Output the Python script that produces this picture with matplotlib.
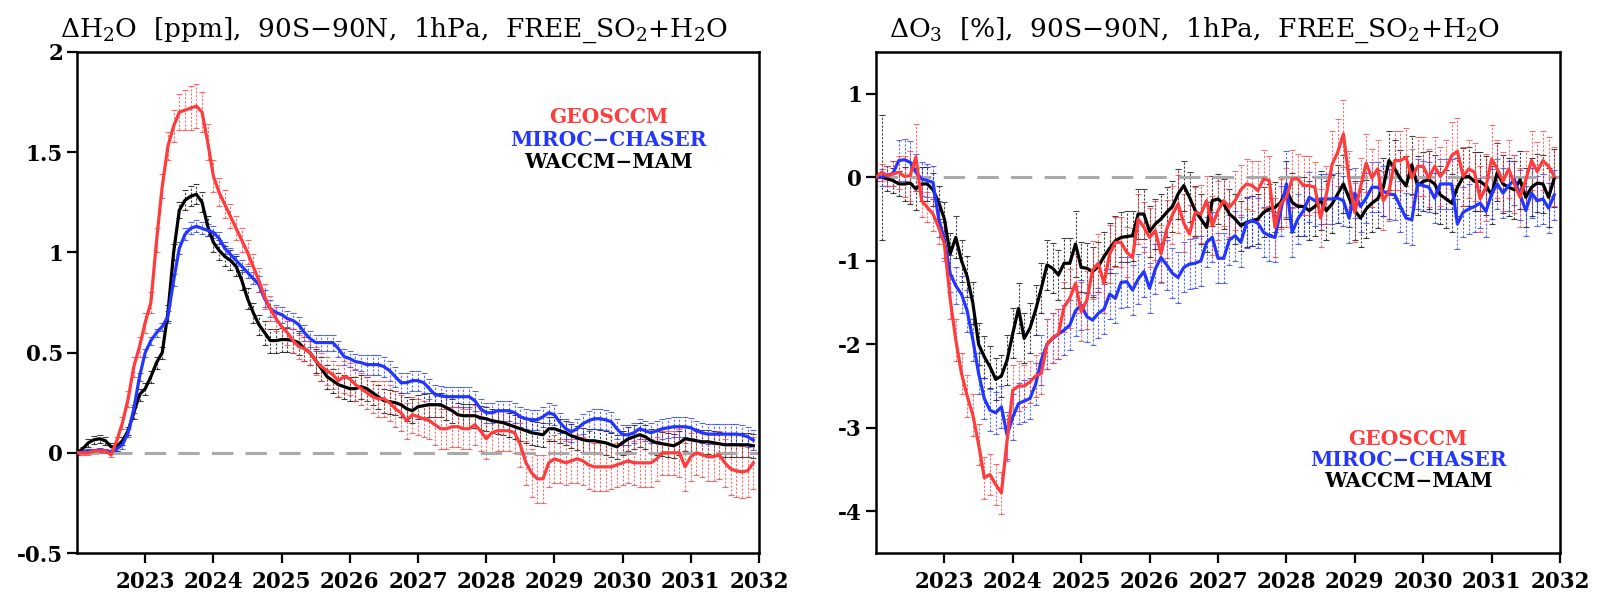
import numpy as np
import matplotlib
matplotlib.use("Agg")
import matplotlib.pyplot as plt

plt.rcParams['font.family'] = ['DejaVu Serif']
plt.rcParams['mathtext.fontset'] = 'dejavuserif'
plt.rcParams['mathtext.default'] = 'regular'

# monthly time axis, Jan 2022 .. Dec 2031
months = 2022 + np.arange(120) / 12.0

models = ['GEOSCCM', 'MIROC-CHASER', 'WACCM-MAM']
colors = {'GEOSCCM': '#ff3b3b', 'MIROC-CHASER': '#2236ff', 'WACCM-MAM': '#000000'}

# ---- dH2O [ppm] ----
h2o_geos = [
    0.00, 0.00, 0.00, 0.01, 0.01, 0.01, -0.01, 0.06, 0.15, 0.27, 0.43, 0.53,
    0.65, 0.75, 1.06, 1.33, 1.53, 1.63, 1.70, 1.71, 1.72, 1.73, 1.70, 1.55,
    1.38, 1.30, 1.24, 1.18, 1.12, 1.06, 1.00, 0.93, 0.86, 0.78, 0.72, 0.67,
    0.63, 0.60, 0.56, 0.53, 0.52, 0.50, 0.46, 0.43, 0.41, 0.39, 0.36, 0.38,
    0.37, 0.34, 0.32, 0.30, 0.28, 0.27, 0.27, 0.25, 0.22, 0.20, 0.16, 0.19,
    0.18, 0.17, 0.16, 0.14, 0.12, 0.12, 0.13, 0.13, 0.12, 0.12, 0.14, 0.11,
    0.07, 0.10, 0.11, 0.11, 0.11, 0.10, 0.04, -0.05, -0.10, -0.13, -0.13, -0.05,
    -0.03, -0.04, -0.05, -0.04, -0.03, -0.04, -0.06, -0.07, -0.07, -0.07, -0.07, -0.06,
    -0.05, -0.04, -0.05, -0.05, -0.05, -0.05, -0.03, 0.00, 0.00, 0.00, 0.00, -0.07,
    -0.02, 0.00, -0.01, -0.02, -0.02, -0.01, -0.05, -0.08, -0.09, -0.095, -0.09, -0.05,
]
h2o_miroc = [
    0.00, 0.005, 0.01, 0.01, 0.015, 0.01, 0.005, 0.02, 0.04, 0.10, 0.22, 0.38,
    0.50, 0.56, 0.60, 0.63, 0.68, 0.86, 1.02, 1.09, 1.12, 1.13, 1.12, 1.11,
    1.10, 1.07, 1.02, 0.99, 0.96, 0.93, 0.90, 0.87, 0.84, 0.77, 0.72, 0.70,
    0.69, 0.67, 0.66, 0.64, 0.60, 0.57, 0.55, 0.55, 0.55, 0.55, 0.52, 0.48,
    0.47, 0.455, 0.45, 0.44, 0.44, 0.44, 0.43, 0.41, 0.38, 0.35, 0.35, 0.36,
    0.36, 0.35, 0.32, 0.29, 0.285, 0.28, 0.28, 0.28, 0.28, 0.28, 0.26, 0.22,
    0.20, 0.20, 0.21, 0.21, 0.21, 0.20, 0.18, 0.17, 0.165, 0.165, 0.18, 0.20,
    0.19, 0.15, 0.12, 0.105, 0.12, 0.145, 0.16, 0.17, 0.17, 0.165, 0.155, 0.12,
    0.09, 0.09, 0.10, 0.12, 0.11, 0.10, 0.11, 0.12, 0.125, 0.13, 0.13, 0.13,
    0.125, 0.11, 0.10, 0.093, 0.093, 0.093, 0.093, 0.093, 0.093, 0.09, 0.08, 0.063,
]
h2o_waccm = [
    0.00, 0.02, 0.05, 0.065, 0.07, 0.06, 0.03, 0.03, 0.06, 0.11, 0.20, 0.29,
    0.32, 0.38, 0.45, 0.50, 0.70, 1.00, 1.21, 1.26, 1.28, 1.29, 1.25, 1.13,
    1.05, 1.01, 0.98, 0.96, 0.93, 0.86, 0.77, 0.70, 0.64, 0.60, 0.56, 0.56,
    0.565, 0.565, 0.56, 0.55, 0.52, 0.50, 0.46, 0.42, 0.38, 0.36, 0.34, 0.33,
    0.32, 0.32, 0.33, 0.32, 0.30, 0.28, 0.26, 0.255, 0.25, 0.24, 0.22, 0.21,
    0.23, 0.235, 0.24, 0.24, 0.24, 0.225, 0.21, 0.19, 0.185, 0.185, 0.185, 0.175,
    0.17, 0.16, 0.155, 0.15, 0.14, 0.13, 0.12, 0.11, 0.10, 0.095, 0.09, 0.12,
    0.12, 0.11, 0.10, 0.085, 0.075, 0.065, 0.06, 0.06, 0.055, 0.05, 0.04, 0.03,
    0.05, 0.07, 0.08, 0.09, 0.08, 0.06, 0.05, 0.045, 0.04, 0.035, 0.05, 0.07,
    0.065, 0.06, 0.055, 0.055, 0.05, 0.045, 0.04, 0.04, 0.04, 0.04, 0.04, 0.035,
]
h2o_geos_err = [
    0.01, 0.01, 0.01, 0.01, 0.01, 0.01, 0.01, 0.02, 0.03, 0.04, 0.05, 0.05,
    0.05, 0.05, 0.06, 0.06, 0.07, 0.08, 0.09, 0.10, 0.11, 0.11, 0.10, 0.09,
    0.08, 0.07, 0.07, 0.06, 0.06, 0.06, 0.06, 0.06, 0.06, 0.06, 0.06, 0.06,
    0.06, 0.06, 0.06, 0.06, 0.06, 0.06, 0.07, 0.07, 0.07, 0.07, 0.08, 0.08,
    0.08, 0.08, 0.08, 0.08, 0.08, 0.09, 0.09, 0.09, 0.09, 0.09, 0.09, 0.09,
    0.09, 0.09, 0.09, 0.10, 0.10, 0.10, 0.10, 0.10, 0.10, 0.10, 0.10, 0.10,
    0.10, 0.10, 0.10, 0.10, 0.10, 0.10, 0.11, 0.11, 0.12, 0.12, 0.12, 0.12,
    0.12, 0.11, 0.11, 0.11, 0.12, 0.12, 0.12, 0.12, 0.12, 0.12, 0.11, 0.11,
    0.11, 0.11, 0.11, 0.12, 0.12, 0.12, 0.11, 0.11, 0.11, 0.11, 0.12, 0.12,
    0.12, 0.11, 0.11, 0.12, 0.12, 0.12, 0.12, 0.13, 0.13, 0.13, 0.13, 0.13,
]
h2o_miroc_err = [
    0.01, 0.01, 0.01, 0.01, 0.01, 0.01, 0.01, 0.01, 0.02, 0.02, 0.02, 0.02,
    0.02, 0.02, 0.02, 0.02, 0.03, 0.03, 0.03, 0.03, 0.03, 0.03, 0.03, 0.03,
    0.03, 0.03, 0.03, 0.03, 0.03, 0.03, 0.03, 0.03, 0.04, 0.04, 0.04, 0.04,
    0.04, 0.04, 0.04, 0.04, 0.04, 0.04, 0.04, 0.04, 0.04, 0.04, 0.04, 0.04,
    0.04, 0.04, 0.04, 0.05, 0.05, 0.05, 0.05, 0.05, 0.05, 0.05, 0.05, 0.05,
    0.05, 0.05, 0.05, 0.05, 0.05, 0.05, 0.05, 0.05, 0.05, 0.05, 0.05, 0.05,
    0.05, 0.05, 0.05, 0.05, 0.05, 0.05, 0.05, 0.05, 0.05, 0.05, 0.05, 0.05,
    0.05, 0.05, 0.05, 0.05, 0.05, 0.05, 0.05, 0.05, 0.05, 0.05, 0.05, 0.05,
    0.05, 0.05, 0.05, 0.05, 0.05, 0.05, 0.05, 0.05, 0.05, 0.05, 0.05, 0.05,
    0.05, 0.05, 0.05, 0.05, 0.05, 0.05, 0.05, 0.05, 0.05, 0.05, 0.05, 0.05,
]
h2o_waccm_err = [
    0.01, 0.01, 0.02, 0.02, 0.02, 0.02, 0.02, 0.02, 0.02, 0.02, 0.03, 0.03,
    0.03, 0.03, 0.03, 0.03, 0.04, 0.04, 0.04, 0.05, 0.05, 0.05, 0.05, 0.05,
    0.05, 0.05, 0.05, 0.05, 0.05, 0.05, 0.05, 0.05, 0.05, 0.06, 0.06, 0.06,
    0.06, 0.06, 0.06, 0.06, 0.06, 0.06, 0.06, 0.06, 0.06, 0.06, 0.06, 0.06,
    0.06, 0.06, 0.06, 0.06, 0.06, 0.06, 0.06, 0.06, 0.06, 0.06, 0.06, 0.06,
    0.06, 0.06, 0.06, 0.06, 0.06, 0.06, 0.06, 0.06, 0.06, 0.06, 0.06, 0.06,
    0.06, 0.06, 0.06, 0.06, 0.06, 0.06, 0.06, 0.06, 0.06, 0.06, 0.06, 0.06,
    0.06, 0.06, 0.06, 0.06, 0.06, 0.06, 0.06, 0.06, 0.06, 0.06, 0.06, 0.06,
    0.06, 0.06, 0.06, 0.06, 0.06, 0.06, 0.06, 0.06, 0.06, 0.06, 0.06, 0.06,
    0.06, 0.06, 0.06, 0.06, 0.06, 0.06, 0.06, 0.06, 0.06, 0.06, 0.06, 0.06,
]

# ---- dO3 [%] ----
o3_geos = [
    0.00, 0.06, 0.02, 0.04, 0.06, 0.01, 0.02, 0.24, -0.28, -0.36, -0.44, -0.60,
    -0.80, -1.45, -1.95, -2.35, -2.62, -2.85, -3.20, -3.60, -3.56, -3.68, -3.78, -3.15,
    -2.55, -2.50, -2.50, -2.45, -2.38, -2.35, -2.00, -1.92, -1.88, -1.55, -1.45, -1.27,
    -1.61, -1.47, -1.11, -1.03, -1.27, -0.92, -0.78, -0.78, -0.90, -0.96, -0.50, -0.60,
    -0.72, -0.64, -0.92, -0.62, -0.45, -0.32, -0.55, -0.68, -0.42, -0.44, -0.28, -0.58,
    -0.40, -0.28, -0.36, -0.28, -0.15, -0.08, -0.10, -0.16, -0.02, -0.04, -0.60, -0.32,
    -0.24, -0.02, -0.02, -0.10, -0.10, -0.12, -0.49, -0.21, 0.15, 0.30, 0.52, -0.03,
    -0.42, -0.12, 0.17, -0.01, 0.10, -0.28, -0.17, 0.20, 0.20, 0.24, -0.01, 0.13,
    0.13, -0.01, 0.13, 0.01, 0.10, 0.26, 0.31, 0.01, 0.10, 0.06, -0.26, -0.12,
    0.22, 0.10, -0.05, 0.10, -0.08, -0.24, -0.03, 0.20, 0.07, 0.20, 0.13, 0.01,
]
o3_miroc = [
    0.00, 0.00, 0.02, 0.05, 0.20, 0.21, 0.18, 0.06, -0.02, -0.04, -0.06, -0.50,
    -0.75, -1.15, -1.30, -1.40, -1.60, -1.95, -2.35, -2.65, -2.79, -2.82, -2.75, -3.09,
    -2.87, -2.71, -2.68, -2.65, -2.48, -2.19, -2.00, -1.93, -1.88, -1.83, -1.77, -1.60,
    -1.53, -1.67, -1.71, -1.63, -1.58, -1.40, -1.45, -1.26, -1.25, -1.35, -1.22, -1.13,
    -1.33, -1.10, -0.96, -1.05, -1.15, -1.20, -1.08, -1.04, -1.03, -1.00, -0.78, -0.72,
    -0.97, -0.97, -0.75, -0.70, -0.78, -0.55, -0.52, -0.55, -0.66, -0.70, -0.72, -0.40,
    -0.08, -0.66, -0.50, -0.40, -0.24, -0.28, -0.26, -0.26, -0.26, -0.25, -0.28, -0.49,
    -0.19, -0.35, -0.25, -0.12, -0.12, -0.17, -0.20, -0.21, -0.35, -0.49, -0.51, -0.08,
    -0.10, -0.12, -0.25, -0.08, -0.08, -0.08, -0.56, -0.42, -0.38, -0.35, -0.31, -0.41,
    -0.20, -0.08, -0.19, -0.10, -0.03, -0.21, -0.40, -0.19, -0.28, -0.26, -0.37, -0.21,
]
o3_waccm = [
    0.00, 0.00, -0.02, -0.04, -0.08, -0.08, -0.07, -0.14, -0.08, -0.08, -0.15, -0.30,
    -0.50, -0.92, -0.72, -1.00, -1.19, -1.51, -2.00, -2.15, -2.27, -2.42, -2.38, -2.19,
    -1.87, -1.57, -1.93, -1.81, -1.59, -1.33, -1.05, -1.09, -1.17, -1.03, -1.03, -0.80,
    -1.08, -1.09, -1.13, -1.07, -0.95, -0.85, -0.76, -0.72, -0.71, -0.70, -0.44, -0.44,
    -0.65, -0.56, -0.50, -0.42, -0.35, -0.20, -0.10, -0.24, -0.40, -0.50, -0.60, -0.28,
    -0.26, -0.32, -0.44, -0.50, -0.58, -0.54, -0.52, -0.50, -0.42, -0.38, -0.36, -0.30,
    -0.15, -0.30, -0.35, -0.35, -0.40, -0.35, -0.28, -0.40, -0.32, -0.20, -0.08, -0.25,
    -0.40, -0.49, -0.38, -0.31, -0.26, -0.12, 0.20, 0.10, -0.02, -0.10, 0.15, -0.10,
    -0.05, -0.03, -0.08, -0.21, -0.26, -0.31, -0.12, 0.00, 0.01, -0.05, -0.05, -0.10,
    -0.21, 0.06, -0.08, -0.12, -0.15, -0.03, -0.24, -0.12, -0.07, -0.08, -0.24, -0.01,
]
o3_geos_err = [
    0.05, 0.10, 0.12, 0.15, 0.20, 0.25, 0.30, 0.40, 0.20, 0.18, 0.20, 0.20,
    0.20, 0.25, 0.25, 0.25, 0.25, 0.25, 0.25, 0.25, 0.25, 0.25, 0.25, 0.25,
    0.30, 0.30, 0.25, 0.25, 0.25, 0.25, 0.30, 0.30, 0.30, 0.30, 0.35, 0.35,
    0.35, 0.35, 0.35, 0.35, 0.35, 0.35, 0.30, 0.30, 0.30, 0.35, 0.30, 0.30,
    0.35, 0.35, 0.35, 0.35, 0.35, 0.35, 0.35, 0.35, 0.30, 0.35, 0.30, 0.35,
    0.35, 0.30, 0.35, 0.35, 0.30, 0.30, 0.30, 0.35, 0.35, 0.30, 0.35, 0.30,
    0.35, 0.35, 0.30, 0.35, 0.35, 0.30, 0.35, 0.35, 0.40, 0.40, 0.40, 0.35,
    0.35, 0.35, 0.35, 0.35, 0.35, 0.35, 0.35, 0.35, 0.35, 0.35, 0.35, 0.35,
    0.35, 0.35, 0.35, 0.35, 0.35, 0.40, 0.40, 0.35, 0.35, 0.35, 0.40, 0.40,
    0.40, 0.35, 0.35, 0.35, 0.35, 0.35, 0.35, 0.35, 0.35, 0.35, 0.35, 0.35,
]
o3_miroc_err = [
    0.05, 0.10, 0.12, 0.15, 0.25, 0.25, 0.25, 0.22, 0.20, 0.20, 0.20, 0.22,
    0.22, 0.22, 0.22, 0.22, 0.25, 0.25, 0.25, 0.25, 0.25, 0.25, 0.25, 0.28,
    0.28, 0.25, 0.25, 0.25, 0.25, 0.30, 0.30, 0.30, 0.30, 0.30, 0.30, 0.30,
    0.30, 0.30, 0.30, 0.30, 0.30, 0.30, 0.30, 0.30, 0.30, 0.30, 0.30, 0.30,
    0.30, 0.30, 0.30, 0.30, 0.30, 0.30, 0.30, 0.30, 0.30, 0.30, 0.30, 0.30,
    0.30, 0.30, 0.30, 0.30, 0.30, 0.30, 0.30, 0.30, 0.30, 0.30, 0.30, 0.30,
    0.40, 0.30, 0.30, 0.30, 0.30, 0.30, 0.30, 0.30, 0.30, 0.30, 0.30, 0.30,
    0.30, 0.30, 0.30, 0.30, 0.30, 0.30, 0.30, 0.30, 0.30, 0.30, 0.30, 0.30,
    0.30, 0.30, 0.30, 0.30, 0.30, 0.30, 0.30, 0.30, 0.30, 0.30, 0.30, 0.30,
    0.30, 0.30, 0.30, 0.30, 0.30, 0.30, 0.30, 0.30, 0.30, 0.30, 0.30, 0.30,
]
o3_waccm_err = [
    0.05, 0.75, 0.15, 0.15, 0.15, 0.20, 0.25, 0.25, 0.20, 0.20, 0.20, 0.20,
    0.20, 0.25, 0.25, 0.25, 0.25, 0.25, 0.25, 0.25, 0.25, 0.25, 0.25, 0.30,
    0.30, 0.30, 0.30, 0.30, 0.30, 0.30, 0.30, 0.30, 0.30, 0.30, 0.30, 0.40,
    0.30, 0.30, 0.30, 0.30, 0.30, 0.30, 0.30, 0.30, 0.30, 0.30, 0.30, 0.30,
    0.30, 0.30, 0.30, 0.30, 0.30, 0.30, 0.30, 0.30, 0.30, 0.30, 0.30, 0.30,
    0.30, 0.30, 0.30, 0.30, 0.30, 0.30, 0.30, 0.30, 0.30, 0.30, 0.30, 0.30,
    0.35, 0.35, 0.35, 0.35, 0.35, 0.35, 0.35, 0.35, 0.35, 0.35, 0.35, 0.35,
    0.35, 0.35, 0.35, 0.35, 0.35, 0.35, 0.35, 0.35, 0.35, 0.35, 0.35, 0.35,
    0.35, 0.35, 0.35, 0.35, 0.35, 0.35, 0.35, 0.35, 0.35, 0.35, 0.35, 0.35,
    0.35, 0.35, 0.35, 0.35, 0.35, 0.35, 0.35, 0.35, 0.35, 0.35, 0.35, 0.35,
]

h2o = {'GEOSCCM': (h2o_geos, h2o_geos_err),
       'MIROC-CHASER': (h2o_miroc, h2o_miroc_err),
       'WACCM-MAM': (h2o_waccm, h2o_waccm_err)}
o3 = {'GEOSCCM': (o3_geos, o3_geos_err),
      'MIROC-CHASER': (o3_miroc, o3_miroc_err),
      'WACCM-MAM': (o3_waccm, o3_waccm_err)}

years = list(range(2023, 2033))

fig = plt.figure(figsize=(16.01, 5.98), dpi=100)
ax1 = fig.add_axes([77 / 1601, 45 / 598, 682 / 1601, 501 / 598])
ax2 = fig.add_axes([876 / 1601, 45 / 598, 684 / 1601, 501 / 598])


def draw_panel(ax, data, ylim, yticks, title, legend_xy, legend_step):
    ax.axhline(0, color='#aaaaaa', lw=2.2, dashes=(7, 4), zorder=2)
    # draw black first, red on top
    for name in ['WACCM-MAM', 'MIROC-CHASER', 'GEOSCCM']:
        vals, err = data[name]
        c = colors[name]
        eb = ax.errorbar(months, vals, yerr=err, fmt='none', ecolor=c,
                         elinewidth=0.8, capsize=2.5, capthick=0.8,
                         alpha=0.75, zorder=1)
        eb[2][0].set_linestyle((0, (2, 1.5)))
        ax.plot(months, vals, color=c, lw=2.3, zorder=3)

    ax.set_xlim(2022, 2032)
    ax.set_ylim(*ylim)
    ax.set_xticks(years)
    ax.set_xticklabels([str(y) for y in years])
    ax.set_yticks(yticks)
    ax.set_yticklabels(['%g' % v for v in yticks])
    for lab in ax.get_xticklabels() + ax.get_yticklabels():
        lab.set_fontweight('bold')
        lab.set_fontsize(15.5)
    ax.tick_params(axis='x', direction='out', length=7, width=1.6, pad=6)
    ax.tick_params(axis='y', direction='out', length=7, width=1.6, pad=3)
    for sp in ax.spines.values():
        sp.set_linewidth(1.8)
    ax.set_title(title, fontsize=19, x=0.465, pad=11)

    lx, ly = legend_xy
    for k, name in enumerate(models):
        ax.text(lx, ly - k * legend_step, name.replace('-', '\u2212'),
                transform=ax.transAxes, ha='center', va='baseline',
                color=colors[name], fontsize=14.5, fontweight='bold', zorder=5)


draw_panel(ax1, h2o, (-0.5, 2.0), [-0.5, 0, 0.5, 1, 1.5, 2],
           r'$\Delta$H$_2$O  [ppm],  90S$-$90N,  1hPa,  FREE_SO$_2$+H$_2$O',
           (0.779, 0.858), 0.045)
draw_panel(ax2, o3, (-4.5, 1.5), [-4, -3, -2, -1, 0, 1],
           r'$\Delta$O$_3$  [%],  90S$-$90N,  1hPa,  FREE_SO$_2$+H$_2$O',
           (0.778, 0.216), 0.042)

fig.savefig('out.png', dpi=100)
